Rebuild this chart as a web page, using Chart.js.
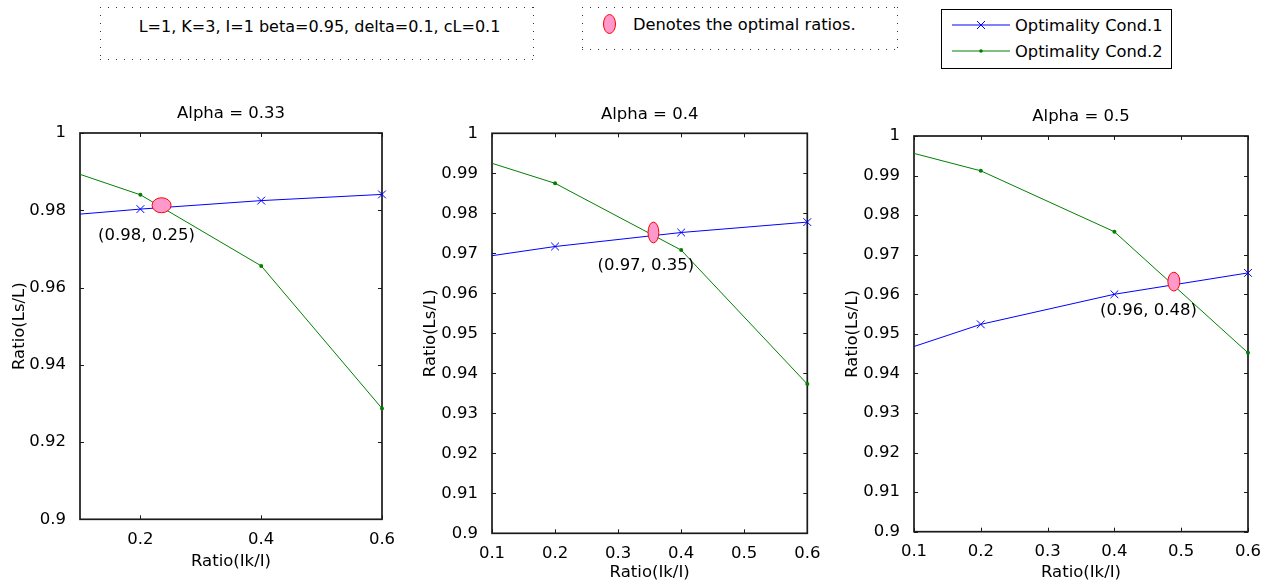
<!DOCTYPE html>
<html lang="en">
<head>
<meta charset="UTF-8" />
<title>Optimality conditions vs Alpha</title>
<script src="https://cdn.jsdelivr.net/npm/chart.js"></script>
<style>
  body{margin:0;width:1266px;height:583px;position:relative;overflow:hidden;background:#fff;
       font-family:"DejaVu Sans",sans-serif;color:#000;}
  .dots{position:absolute;box-sizing:border-box;
    background:
      linear-gradient(to right,#333 1px,transparent 1px) 0 0/8px 1px repeat-x,
      linear-gradient(to right,#333 1px,transparent 1px) 0 100%/8px 1px repeat-x,
      linear-gradient(#333 1px,transparent 1px) 0 0/1px 8px repeat-y,
      linear-gradient(#333 1px,transparent 1px) 100% 0/1px 8px repeat-y;}
  #params{left:100px;top:7px;width:434px;height:53px;font-size:16px;line-height:19px;
          text-align:center;padding:9.5px 0 0 5px;white-space:nowrap;}
  #note{left:582px;top:7px;width:316px;height:43px;}
  #note svg{position:absolute;left:20px;top:6px;}
  #note span{position:absolute;left:51px;top:7.5px;font-size:16.3px;line-height:19px;white-space:nowrap;}
  #legend{position:absolute;left:941px;top:9px;width:231px;height:60px;box-sizing:border-box;
          border:1.5px solid #000;}
  #legend svg{position:absolute;left:10px;}
  #legend span{position:absolute;left:73px;font-size:16.3px;line-height:19px;white-space:nowrap;}
  canvas{position:absolute;top:95px;}
</style>
</head>
<body>
  <div class="dots" id="params">L=1, K=3, I=1 beta=0.95, delta=0.1, cL=0.1</div>
  <div class="dots" id="note">
    <svg width="16" height="24"><ellipse cx="7.5" cy="11" rx="6" ry="9.5" fill="#ff99cc" stroke="#ff0000" stroke-width="1"/></svg>
    <span>Denotes the optimal ratios.</span>
  </div>
  <div id="legend">
    <svg width="58" height="12" style="top:9px"><line x1="0" y1="6" x2="58" y2="6" stroke="#0000ff"/>
      <path d="M25 2 L33 10 M33 2 L25 10" stroke="#0000ff"/></svg>
    <span style="top:6px">Optimality Cond.1</span>
    <svg width="58" height="12" style="top:35px"><line x1="0" y1="6" x2="58" y2="6" stroke="#008000"/>
      <circle cx="29" cy="6" r="1.8" fill="#008000"/></svg>
    <span style="top:32px">Optimality Cond.2</span>
  </div>

  <canvas id="c1" width="405" height="488" style="left:0px"></canvas>
  <canvas id="c2" width="415" height="488" style="left:415px"></canvas>
  <canvas id="c3" width="428" height="488" style="left:838px"></canvas>

<script>
// ── values ──────────────────────────────────────────────────────────────
const ratioIk = [0.1, 0.2, 0.4, 0.6];

const cond1A = [0.9790, 0.9803, 0.9825, 0.9841];
const cond2A = [0.9893, 0.9840, 0.9656, 0.9287];
const cond1B = [0.9694, 0.9717, 0.9752, 0.9778];
const cond2B = [0.9925, 0.9875, 0.9708, 0.9373];
const cond1C = [0.9468, 0.9524, 0.9600, 0.9654];
const cond2C = [0.9956, 0.9912, 0.9758, 0.9452];

const alphas = ['0.33', '0.4', '0.5'];

// optimal points (ellipses) and their annotations
const optX = [0.235, 0.356, 0.489];
const optY = [0.9813, 0.9752, 0.9632];
const optText = ['(0.98, 0.25)', '(0.97, 0.35)', '(0.96, 0.48)'];
const optTextX = [0.210, 0.344, 0.451];
const optTextY = [0.9733, 0.9669, 0.9558];

// ticks
const xTicksA  = [0.2, 0.4, 0.6];
const xTicksBC = [0.1, 0.2, 0.3, 0.4, 0.5, 0.6];
const yTicksA  = [0.9, 0.92, 0.94, 0.96, 0.98, 1];
const yTicksBC = [0.9, 0.91, 0.92, 0.93, 0.94, 0.95, 0.96, 0.97, 0.98, 0.99, 1];

// ── layout per panel (pixels only, no data) ─────────────────────────────
const panels = [
  {id:'c1', c1:cond1A, c2:cond2A, xt:xTicksA,  yt:yTicksA,  yW:80, xH:63.7, padR:23, padT:38,
   xPad:3, yTitle:9.4, xTitle:11.4, ell:[9.5, 7.5]},
  {id:'c2', c1:cond1B, c2:cond2B, xt:xTicksBC, yt:yTicksBC, yW:77, xH:49.7, padR:22.7, padT:38.3,
   xPad:2.5, yTitle:5.4, xTitle:0, ell:[5.4, 10.4]},
  {id:'c3', c1:cond1C, c2:cond2C, xt:xTicksBC, yt:yTicksBC, yW:76, xH:51.3, padR:18, padT:41,
   xPad:2.5, yTitle:4.9, xTitle:0, ell:[6, 9.4]},
];

const FONT = '"DejaVu Sans", sans-serif';
const FS = 16.5;
Chart.defaults.font.family = FONT;
Chart.defaults.font.size = FS;
Chart.defaults.color = '#000';

// MATLAB-like axes box with inward ticks, title over the axes, optimum ellipse + label
const boxPlugin = {
  id: 'matbox',
  beforeDatasetsDraw(chart) {
    const {ctx, chartArea: a, scales: {x, y}} = chart;
    ctx.save();
    ctx.strokeStyle = '#1a1a1a';
    ctx.lineWidth = 1;
    ctx.beginPath();
    x.ticks.forEach(t => {
      const px = Math.round(x.getPixelForValue(t.value)) + 0.5;
      ctx.moveTo(px, a.bottom); ctx.lineTo(px, a.bottom - 4);
      ctx.moveTo(px, a.top);    ctx.lineTo(px, a.top + 4);
    });
    y.ticks.forEach(t => {
      const py = Math.round(y.getPixelForValue(t.value)) + 0.5;
      ctx.moveTo(a.left, py);  ctx.lineTo(a.left + 4, py);
      ctx.moveTo(a.right, py); ctx.lineTo(a.right - 4, py);
    });
    ctx.stroke();
    ctx.lineWidth = 1.7;
    ctx.strokeRect(a.left, a.top, a.right - a.left, a.bottom - a.top);
    ctx.font = FS + 'px ' + FONT;
    ctx.fillStyle = '#000';
    ctx.textAlign = 'center';
    ctx.textBaseline = 'middle';
    ctx.fillText(chart.options.plugins.matbox.title, (a.left + a.right) / 2, a.top - 19);
    ctx.restore();
  },
  afterDatasetsDraw(chart, args, opts) {
    const {ctx, scales: {x, y}} = chart;
    const i = opts.idx;
    ctx.save();
    ctx.beginPath();
    ctx.ellipse(x.getPixelForValue(optX[i]), y.getPixelForValue(optY[i]),
                opts.ell[0], opts.ell[1], 0, 0, Math.PI * 2);
    ctx.fillStyle = '#ff99cc';
    ctx.fill();
    ctx.strokeStyle = '#ff0000';
    ctx.lineWidth = 1;
    ctx.stroke();
    ctx.font = FS + 'px ' + FONT;
    ctx.fillStyle = '#000';
    ctx.textAlign = 'center';
    ctx.textBaseline = 'middle';
    ctx.fillText(optText[i], x.getPixelForValue(optTextX[i]), y.getPixelForValue(optTextY[i]));
    ctx.restore();
  }
};

const fmt = v => String(Math.round(v * 1000) / 1000);

panels.forEach((p, i) => {
  new Chart(document.getElementById(p.id), {
    type: 'line',
    data: {
      datasets: [
        {
          label: 'Optimality Cond.1',
          data: ratioIk.map((v, k) => ({x: v, y: p.c1[k]})),
          borderColor: '#0000ff', backgroundColor: '#0000ff', borderWidth: 1,
          pointStyle: 'crossRot', pointBorderWidth: 1,
          pointRadius: c => c.dataIndex === 0 ? 0 : 5.5,
          tension: 0, clip: false
        },
        {
          label: 'Optimality Cond.2',
          data: ratioIk.map((v, k) => ({x: v, y: p.c2[k]})),
          borderColor: '#008000', backgroundColor: '#008000', borderWidth: 1,
          pointStyle: 'circle', pointBorderWidth: 0,
          pointRadius: c => c.dataIndex === 0 ? 0 : 2,
          tension: 0, clip: false
        }
      ]
    },
    options: {
      responsive: false,
      animation: false,
      events: [],
      layout: {padding: {left: 0, top: p.padT, bottom: 0, right: p.padR}},
      plugins: {
        legend: {display: false},
        tooltip: {enabled: false},
        title: {display: false},
        matbox: {idx: i, ell: p.ell, title: 'Alpha = ' + alphas[i]}
      },
      scales: {
        x: {
          type: 'linear', min: 0.1, max: 0.6,
          grid: {display: false}, border: {display: false},
          ticks: {padding: p.xPad, maxRotation: 0, autoSkip: false, callback: fmt},
          title: {display: true, text: 'Ratio(Ik/I)', padding: {top: 0, bottom: p.xTitle}},
          afterBuildTicks: s => { s.ticks = p.xt.map(v => ({value: v})); },
          afterFit: s => { s.height = p.xH; }
        },
        y: {
          min: 0.9, max: 1,
          grid: {display: false}, border: {display: false},
          ticks: {padding: 6, autoSkip: false, callback: fmt},
          title: {display: true, text: 'Ratio(Ls/L)', padding: {top: p.yTitle, bottom: 0}},
          afterBuildTicks: s => { s.ticks = p.yt.map(v => ({value: v})); },
          afterFit: s => { s.width = p.yW; }
        }
      }
    },
    plugins: [boxPlugin]
  });
});
</script>
</body>
</html>
